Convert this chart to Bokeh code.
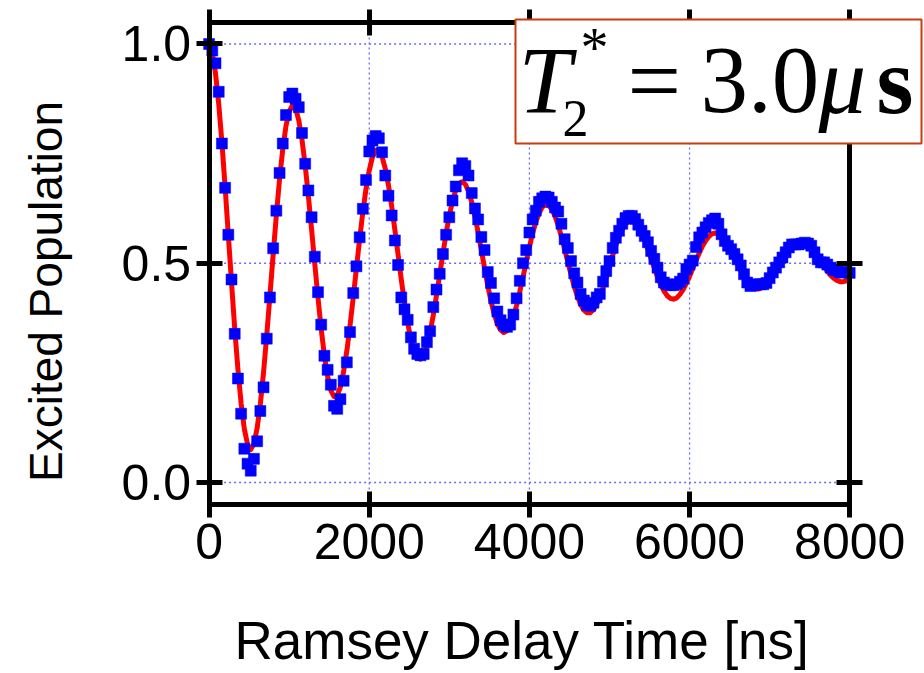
from bokeh.plotting import figure
from bokeh.models import (Range1d, LinearAxis, FixedTicker, PrintfTickFormatter,
                          CustomJSTickFormatter, Label, BoxAnnotation)
from bokeh.embed import file_html
from bokeh.resources import INLINE

# Ramsey delay times [ns], one point every 40 ns
delay_ns = list(range(0, 8001, 40))

excited = [
    1.000, 0.985, 0.956, 0.891, 0.773, 0.672, 0.565, 0.463, 0.339, 0.237,
    0.157, 0.077, 0.043, 0.027, 0.054, 0.094, 0.163, 0.217, 0.328, 0.422,
    0.534, 0.620, 0.706, 0.773, 0.838, 0.879, 0.887, 0.875, 0.856, 0.797,
    0.727, 0.666, 0.605, 0.515, 0.434, 0.360, 0.289, 0.257, 0.223, 0.175,
    0.168, 0.190, 0.232, 0.274, 0.343, 0.432, 0.493, 0.559, 0.624, 0.690,
    0.755, 0.780, 0.790, 0.785, 0.753, 0.700, 0.654, 0.609, 0.552, 0.496,
    0.422, 0.395, 0.371, 0.331, 0.305, 0.293, 0.290, 0.293, 0.320, 0.345,
    0.400, 0.440, 0.476, 0.521, 0.565, 0.605, 0.643, 0.675, 0.712, 0.728,
    0.722, 0.700, 0.660, 0.625, 0.600, 0.560, 0.530, 0.480, 0.455, 0.420,
    0.390, 0.370, 0.360, 0.355, 0.360, 0.383, 0.420, 0.460, 0.500, 0.530,
    0.570, 0.600, 0.620, 0.640, 0.648, 0.652, 0.650, 0.640, 0.627, 0.618,
    0.590, 0.555, 0.535, 0.505, 0.477, 0.456, 0.430, 0.415, 0.405, 0.403,
    0.410, 0.422, 0.430, 0.458, 0.482, 0.505, 0.535, 0.558, 0.574, 0.590,
    0.603, 0.608, 0.608, 0.601, 0.588, 0.574, 0.562, 0.548, 0.528, 0.510,
    0.490, 0.468, 0.456, 0.452, 0.450, 0.450, 0.452, 0.458, 0.465, 0.487,
    0.497, 0.506, 0.537, 0.559, 0.570, 0.582, 0.592, 0.598, 0.602, 0.590,
    0.566, 0.551, 0.540, 0.532, 0.521, 0.509, 0.495, 0.475, 0.456, 0.448,
    0.450, 0.452, 0.452, 0.452, 0.455, 0.466, 0.479, 0.490, 0.502, 0.513,
    0.525, 0.536, 0.543, 0.543, 0.543, 0.545, 0.547, 0.545, 0.540, 0.525,
    0.509, 0.502, 0.502, 0.497, 0.490, 0.485, 0.483, 0.479, 0.479, 0.480,
    0.478,
]

# fitted curve (red line) at the same delays
fit_curve = [
    1.000, 0.980, 0.933, 0.864, 0.776, 0.674, 0.565, 0.456, 0.351, 0.258,
    0.180, 0.122, 0.087, 0.075, 0.088, 0.124, 0.179, 0.251, 0.336, 0.427,
    0.520, 0.610, 0.692, 0.760, 0.813, 0.846, 0.860, 0.853, 0.826, 0.782,
    0.723, 0.653, 0.577, 0.498, 0.421, 0.350, 0.289, 0.242, 0.210, 0.196,
    0.198, 0.218, 0.253, 0.300, 0.358, 0.422, 0.489, 0.555, 0.617, 0.670,
    0.712, 0.742, 0.757, 0.757, 0.743, 0.716, 0.678, 0.630, 0.576, 0.520,
    0.463, 0.410, 0.364, 0.326, 0.299, 0.284, 0.281, 0.291, 0.312, 0.343,
    0.382, 0.427, 0.474, 0.522, 0.568, 0.609, 0.642, 0.667, 0.682, 0.686,
    0.680, 0.664, 0.639, 0.607, 0.570, 0.530, 0.489, 0.449, 0.414, 0.384,
    0.362, 0.348, 0.342, 0.346, 0.358, 0.378, 0.404, 0.435, 0.468, 0.503,
    0.537, 0.568, 0.594, 0.614, 0.628, 0.634, 0.632, 0.623, 0.607, 0.586,
    0.561, 0.532, 0.503, 0.474, 0.447, 0.424, 0.406, 0.393, 0.387, 0.387,
    0.394, 0.406, 0.423, 0.444, 0.468, 0.493, 0.518, 0.541, 0.561, 0.577,
    0.589, 0.595, 0.596, 0.592, 0.582, 0.568, 0.551, 0.531, 0.510, 0.489,
    0.469, 0.451, 0.437, 0.426, 0.420, 0.418, 0.421, 0.429, 0.440, 0.454,
    0.470, 0.488, 0.506, 0.523, 0.539, 0.551, 0.561, 0.567, 0.569, 0.567,
    0.562, 0.553, 0.541, 0.528, 0.513, 0.498, 0.483, 0.470, 0.458, 0.449,
    0.444, 0.441, 0.442, 0.446, 0.453, 0.463, 0.474, 0.487, 0.500, 0.512,
    0.524, 0.534, 0.542, 0.547, 0.550, 0.549, 0.546, 0.541, 0.533, 0.524,
    0.513, 0.502, 0.492, 0.482, 0.473, 0.466, 0.461, 0.458, 0.458, 0.460,
    0.464,
]

x_ticks = [0, 2000, 4000, 6000, 8000]
y_ticks = [0.0, 0.5, 1.0]
x_grid = [2000, 4000, 6000]
x_lim = (0, 8000)
y_lim = (-0.05, 1.05)
x_title = "Ramsey Delay Time  [ns]"
y_title = "Excited Population"

SANS = "Liberation Sans"
SERIF = "Liberation Serif"

# the frame covers the whole canvas; the four axes sit at fixed data positions
p = figure(width=924, height=673,
           x_range=Range1d(-2605, 8934), y_range=Range1d(-0.4356, 1.0992),
           output_backend="svg", toolbar_location=None,
           min_border=0, min_border_left=0, min_border_right=0,
           min_border_top=0, min_border_bottom=0)
p.outline_line_color = None
p.background_fill_color = "white"
p.border_fill_color = "white"
p.xgrid.visible = False
p.ygrid.visible = False

# dotted grid inside the box
grid_kw = dict(line_color="#6a6aff", line_dash="2 3", line_width=1.3)
p.segment(x0=x_grid, y0=[y_lim[0]] * len(x_grid), x1=x_grid, y1=[y_lim[1]] * len(x_grid), **grid_kw)
p.segment(x0=[x_lim[0]] * len(y_ticks), y0=y_ticks, x1=[x_lim[1]] * len(y_ticks), y1=y_ticks, **grid_kw)


def style_axis(ax, ticks, loc, bounds):
    ax.ticker = FixedTicker(ticks=ticks)
    ax.fixed_location = loc
    ax.bounds = bounds
    ax.axis_line_width = 5
    ax.axis_line_color = "black"
    ax.axis_line_cap = "square"
    ax.major_tick_line_width = 5
    ax.major_tick_line_color = "black"
    ax.major_tick_in = 13
    ax.major_tick_out = 13
    ax.minor_tick_in = 0
    ax.minor_tick_out = 0


xb = p.xaxis[0]
style_axis(xb, x_ticks, y_lim[0], x_lim)
xb.formatter = PrintfTickFormatter(format="%d")
xb.major_label_text_font = SANS
xb.major_label_text_font_size = "50px"
xb.major_label_text_color = "black"
xb.major_label_standoff = 7
xb.axis_label = x_title
xb.axis_label_text_font = SANS
xb.axis_label_text_font_size = "53px"
xb.axis_label_text_font_style = "normal"
xb.axis_label_text_color = "black"
xb.axis_label_standoff = 48

yl = p.yaxis[0]
style_axis(yl, y_ticks, x_lim[0], y_lim)
yl.formatter = PrintfTickFormatter(format="%.1f")
yl.major_label_text_font = SANS
yl.major_label_text_font_size = "50px"
yl.major_label_text_color = "black"
yl.major_label_standoff = 5
yl.major_label_orientation = "horizontal"

blank = CustomJSTickFormatter(code="return ''")
top_ax = LinearAxis()
style_axis(top_ax, x_ticks, y_lim[1], x_lim)
top_ax.formatter = blank
top_ax.major_label_text_font_size = "1px"
top_ax.major_label_standoff = 0
p.add_layout(top_ax, "above")

right_ax = LinearAxis()
style_axis(right_ax, y_ticks, x_lim[1], y_lim)
right_ax.formatter = blank
right_ax.major_label_text_font_size = "1px"
right_ax.major_label_standoff = 0
p.add_layout(right_ax, "right")

# data
p.line(delay_ns, fit_curve, line_color="#ff0000", line_width=5, line_join="round")
p.scatter(delay_ns, excited, marker="square", size=11,
          fill_color="#0000ff", line_color="#0000ff", line_width=0.5)

# y title
p.add_layout(Label(x=45, y=382, x_units="screen", y_units="screen",
                   text=y_title, angle=90, angle_units="deg",
                   text_align="center", text_baseline="middle",
                   text_font=SANS, text_font_size="46px", text_color="black"))

# T2* box
p.add_layout(BoxAnnotation(left=515, right=921, bottom=530, top=654,
                           left_units="screen", right_units="screen",
                           bottom_units="screen", top_units="screen",
                           fill_color="white", fill_alpha=1.0,
                           line_color="#cc3a10", line_width=2, line_alpha=1.0))

base_y = 593
parts = [
    dict(x=518, y=base_y, text="T", style="italic", size="95px"),
    dict(x=562, y=555, text="2", style="normal", size="52px"),
    dict(x=580, y=626, text="*", style="normal", size="56px"),
    dict(x=627, y=base_y, text="=", style="normal", size="95px"),
    dict(x=700, y=base_y, text="3.0", style="normal", size="95px"),
    dict(x=818, y=base_y, text="\u03bc", style="italic", size="95px"),
    dict(x=876, y=base_y, text="s", style="bold", size="95px"),
]
for prt in parts:
    p.add_layout(Label(x=prt["x"], y=prt["y"], x_units="screen", y_units="screen",
                       text=prt["text"], text_font=SERIF,
                       text_font_style=prt["style"],
                       text_font_size=prt["size"],
                       text_align="left", text_baseline="alphabetic",
                       text_color="black"))

open("out.html", "w").write(file_html(p, INLINE))
